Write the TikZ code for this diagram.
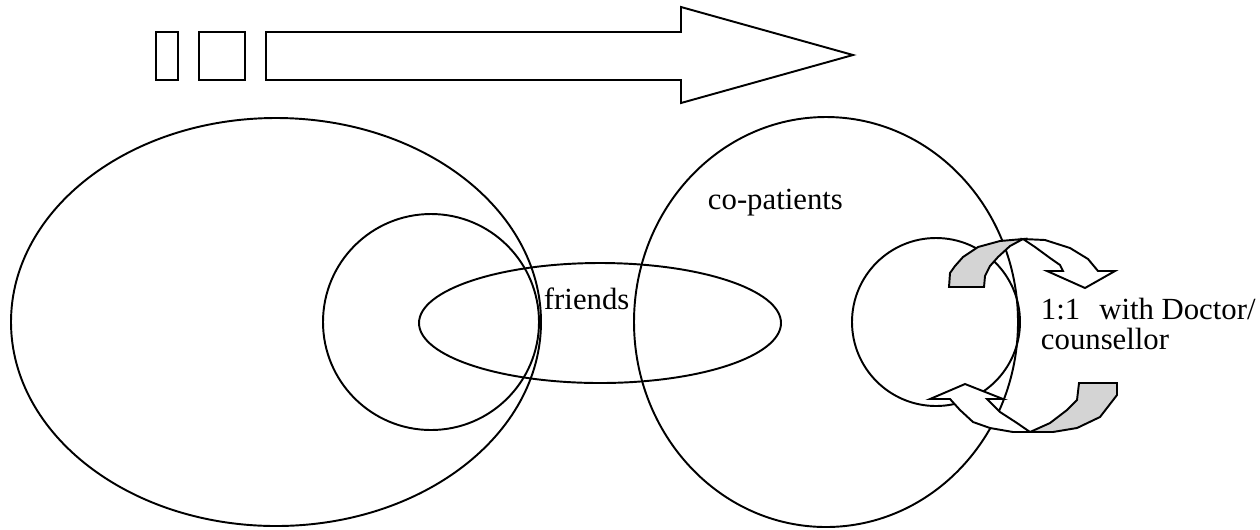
\documentclass[tikz,border=0pt]{standalone}
\usepackage{fontspec}
\setmainfont{Liberation Serif}
\usepackage{tikz}
\usetikzlibrary{calc}

\begin{document}
\begin{tikzpicture}[x=0.02cm,y=-0.02cm,line width=1.1pt,line join=miter,
    lbl/.style={inner sep=0pt,anchor=base west,font=\fontsize{17.5}{17}\selectfont},
    front/.style={draw,fill=white},
    back/.style={draw,fill=black!17}]

        \useasboundingbox (0,0) rectangle (1260,529);

        % time arrow
        \draw (156,32) rectangle (178,80);
        \draw (199,32) rectangle (245,80);
        \draw (266,32) -- (681,32) -- (681,7) -- (853,55) -- (681,103) -- (681,80) -- (266,80) -- cycle;

        % circles
        \draw (276,322) ellipse [x radius=265, y radius=204];
        \draw (431,322) circle (108);
        \draw (600,323) ellipse [x radius=181, y radius=60];
        \draw (826,322) ellipse [x radius=192, y radius=205];
        \draw (936,322) circle (84);

        % upper turn
        \draw[back] (949,287) -- (950,273) -- (955,266) -- (963,257) -- (978,247) -- (1000,241) -- (1023,239)
            -- (1010,246) -- (998,257) -- (990,266) -- (985,276) -- (984,287) -- cycle;
        \draw[front] (1023,239) -- (1045,240) -- (1070,248) -- (1088,259) -- (1098,271) -- (1115,271)
            -- (1085,288) -- (1047,271) -- (1063,271) -- (1060,265) -- (1050,258) -- (1035,247) -- cycle;

        % lower turn
        \draw[back] (1079,383) -- (1117,383) -- (1117,395) -- (1100,417) -- (1077,428) -- (1053,432) -- (1030,432)
            -- (1050,423) -- (1067,410) -- (1077,400) -- cycle;
        \draw[front] (1030,432) -- (1013,432) -- (990,428) -- (973,422) -- (960,410) -- (950,399) -- (930,399)
            -- (965,384) -- (1003,399) -- (987,399) -- (1000,412) -- (1017,423) -- cycle;

        \node[lbl] (friends) at (543,309) {friends};
        \node[lbl] (copatients) at (707,209) {co-patients};
        \node[lbl] (doctor) at (1040,319) {1:1\hspace{0.62em}with Doctor/};
        \node[lbl] (counsellor) at ($(doctor.base west)+(0,30)$) {counsellor};

\end{tikzpicture}
\end{document}
